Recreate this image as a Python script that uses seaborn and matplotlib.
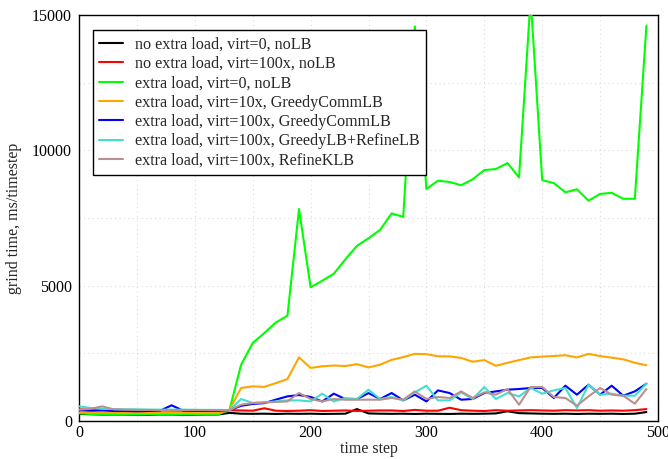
import matplotlib
matplotlib.use("Agg")
import matplotlib.pyplot as plt
import seaborn as sns
import pandas as pd
import numpy as np
from matplotlib.ticker import MultipleLocator

steps = list(range(0, 500, 10))

labels = [
    "no extra load, virt=0, noLB",
    "no extra load, virt=100x, noLB",
    "extra load, virt=0, noLB",
    "extra load, virt=10x, GreedyCommLB",
    "extra load, virt=100x, GreedyCommLB",
    "extra load, virt=100x, GreedyLB+RefineLB",
    "extra load, virt=100x, RefineKLB",
]
colors = ["#000000", "#ff0000", "#00ff00", "#ffa500", "#0000ff", "#40e0d0", "#bc8f8f"]

black = [260, 250, 240, 240, 240, 230, 230, 240, 230, 220, 230, 230, 240,
         300, 270, 265, 270, 260, 270, 265, 270, 260, 265, 270, 440, 280,
         270, 265, 270, 260, 270, 265, 260, 270, 265, 270, 280, 360, 290,
         280, 270, 265, 270, 260, 270, 265, 270, 260, 270, 330]
red = [430, 420, 410, 400, 400, 390, 390, 390, 380, 380, 380, 380, 390,
       400, 390, 380, 470, 380, 370, 380, 400, 370, 380, 390, 370, 380,
       390, 390, 370, 410, 380, 380, 490, 400, 380, 370, 400, 380, 390,
       400, 390, 380, 400, 390, 400, 380, 390, 380, 400, 440]
green = [280, 260, 250, 240, 250, 240, 250, 240, 230, 240, 240, 230, 240,
         420, 2080, 2880, 3250, 3640, 3890, 7830, 4940, 5180, 5440, 5970,
         6470, 6750, 7060, 7670, 7540, 14580, 8570, 8880, 8830, 8710, 8930,
         9270, 9310, 9530, 9000, 15600, 8900, 8790, 8450, 8560, 8140, 8390,
         8430, 8210, 8210, 14610]
orange = [320, 300, 310, 300, 290, 300, 290, 300, 310, 300, 290, 290, 290,
          420, 1220, 1280, 1260, 1400, 1550, 2350, 1960, 2020, 2050, 2030,
          2100, 1980, 2080, 2260, 2360, 2480, 2470, 2390, 2390, 2330, 2190,
          2250, 2040, 2150, 2250, 2350, 2380, 2400, 2430, 2350, 2480, 2400,
          2340, 2280, 2150, 2060]
blue = [400, 380, 390, 370, 370, 360, 370, 380, 580, 380, 380, 370, 370,
        400, 560, 630, 660, 790, 910, 960, 890, 720, 1010, 810, 810, 1030,
        813, 1034, 761, 972, 724, 1131, 1034, 787, 813, 1034, 1094, 1157,
        1182, 1219, 1219, 850, 1304, 972, 1341, 972, 1304, 935, 1094, 1378]
cyan = [540, 480, 450, 440, 430, 430, 420, 420, 420, 420, 410, 410, 410,
        400, 813, 665, 687, 724, 761, 761, 724, 1009, 724, 850, 813, 1157,
        813, 887, 761, 1057, 1304, 761, 761, 1057, 813, 1256, 813, 1034,
        909, 1219, 1009, 1131, 1219, 480, 1341, 972, 1009, 935, 935, 1378]
rosy = [420, 450, 540, 430, 420, 410, 410, 400, 400, 400, 410, 400, 400,
        400, 602, 665, 687, 702, 724, 1034, 813, 724, 813, 787, 787, 787,
        787, 850, 787, 1094, 813, 887, 850, 1094, 850, 1057, 972, 1182, 602,
        1256, 1256, 887, 850, 565, 909, 1219, 972, 935, 639, 1182]

series = [black, red, green, orange, blue, cyan, rosy]

frames = []
for lab, vals in zip(labels, series):
    frames.append(pd.DataFrame({"step": steps, "value": vals, "series": lab}))
df = pd.concat(frames, ignore_index=True)

sns.set_style("white")
plt.rcParams["font.family"] = ["Liberation Serif", "DejaVu Serif"]
plt.rcParams["font.size"] = 11.5

fig = plt.figure(figsize=(6.68, 4.59), dpi=100)
ax = fig.add_axes([79 / 668, 1 - 421 / 459, (658 - 79) / 668, (421 - 15) / 459])

sns.lineplot(data=df, x="step", y="value", hue="series", hue_order=labels,
             palette=dict(zip(labels, colors)), linewidth=1.5, ax=ax,
             legend=True, zorder=3)

ax.set_xlim(0, 500)
ax.set_ylim(0, 15000)
ax.xaxis.set_major_locator(MultipleLocator(100))
ax.xaxis.set_minor_locator(MultipleLocator(50))
ax.yaxis.set_major_locator(MultipleLocator(5000))
ax.yaxis.set_minor_locator(MultipleLocator(2500))
ax.grid(True, which="both", color="#dcdcdc", linestyle=(0, (1, 3)), linewidth=0.8, zorder=0)
ax.set_axisbelow(True)
ax.tick_params(which="both", length=0, labelsize=11.5, colors="black")
ax.tick_params(axis="x", pad=3)
ax.tick_params(axis="y", pad=5)
for s in ax.spines.values():
    s.set_color("black")
    s.set_linewidth(1.0)

ax.set_xlabel("time step", fontsize=11.5, labelpad=0)
ax.set_ylabel("grind time, ms/timestep", fontsize=11.5, labelpad=7)

leg = ax.legend(loc="upper left", bbox_to_anchor=(0.024, 0.963), borderaxespad=0,
                fancybox=False, framealpha=1, edgecolor="black", fontsize=11.6,
                handlelength=1.45, handletextpad=0.75, labelspacing=0.21,
                borderpad=0.4, title=None)
leg.get_frame().set_linewidth(1.0)
for line in leg.get_lines():
    line.set_linewidth(1.5)

fig.savefig("out.png", dpi=100)
